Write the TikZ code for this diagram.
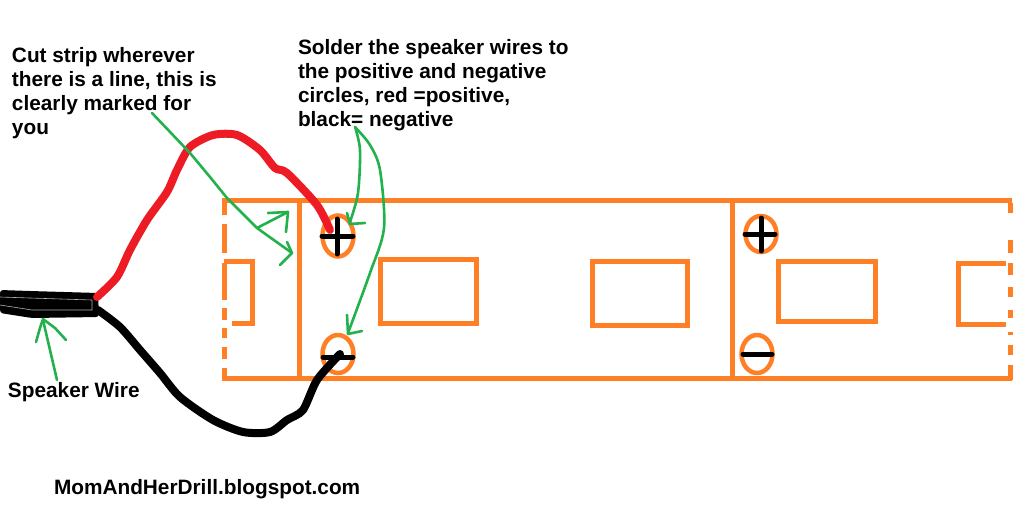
\documentclass[tikz,border=0pt]{standalone}
\usepackage{fontspec}
\setmainfont{Liberation Sans}
\usepackage{xcolor}
\definecolor{StripOrange}{HTML}{FF7F27}
\definecolor{WireRed}{HTML}{ED1C24}
\definecolor{NoteGreen}{HTML}{22B14C}
\usetikzlibrary{shapes.geometric}

\begin{document}
\begin{tikzpicture}[x=1pt,y=-1pt,
    every node/.style={inner sep=0pt,outer sep=0pt},
    note/.style={align=left,anchor=north west,font=\bfseries\fontsize{20.8}{24}\selectfont},
    strip/.style={draw=StripOrange,line width=5pt},
    hole/.style={ellipse,draw=StripOrange,line width=4.5pt,minimum width=31pt},
    sign/.style={draw=black,line width=5pt,line cap=round},
    wire/.style={line width=8pt,line cap=round,line join=round},
    pointer/.style={draw=NoteGreen,line width=2.6pt,line join=round,line cap=round}]
    \useasboundingbox (0,0) rectangle (1016,505);
    % strip
    \draw[strip] (222,200) -- (1012,200);
    \draw[strip] (222,378) -- (1012,378);
    \draw[strip] (299,200) -- (299,378);
    \draw[strip] (732,200) -- (732,378);
    \foreach \ya/\yb in {198/215,224/253,263/300,308/320,328/338,347/359,368/380}
      \draw[strip] (224,\ya) -- (224,\yb);
    \foreach \ya/\yb in {203/213,240/253,263/275,287/297,310/318,332/335,345/355,365/380}
      \draw[strip] (1010,\ya) -- (1010,\yb);
    \node[strip,minimum width=96pt,minimum height=64pt] (ledA) at (428,291.5) {};
    \node[strip,minimum width=95pt,minimum height=64pt] (ledB) at (639.5,293) {};
    \node[strip,minimum width=97pt,minimum height=60pt] (ledC) at (826.5,291.5) {};
    \draw[strip] (224,261) -- (252,261) -- (252,323) -- (232,323);
    \draw[strip] (1006,263) -- (958,263) -- (958,324) -- (1006,324);
    \node[hole,minimum height=41pt] (plusA) at (338,236) {};
    \node[hole,minimum height=38pt] (minusA) at (338,354) {};
    \node[hole,minimum height=36pt] (plusB) at (761,234) {};
    \node[hole,minimum height=38pt] (minusB) at (757,354) {};
    % wires
    \coordinate (redEnd) at (330,230);
    \coordinate (blackEnd) at (340,354);
    \fill[black,rounded corners=3pt] (0,290) -- (30,291) -- (98,293) -- (99,317) -- (32,318) -- (0,313) -- cycle;
    \draw[gray!60,line width=.6pt] (0,297) -- (30,298) -- (92,300) -- (92,310) -- (32,310) -- (0,305);
    \draw[wire,WireRed] plot[smooth,tension=.45] coordinates {(97,297) (117,277) (130,250) (147,220) (167,192) (177,170) (190,147) (213,135) (237,135) (260,150) (275,168) (287,173) (317,205) (redEnd)};
    \draw[wire,black] plot[smooth,tension=.45] coordinates {(98,310) (120,327) (140,350) (160,373) (180,397) (213,420) (243,432) (270,432) (287,420) (303,410) (317,380) (blackEnd)};
    % signs
    \draw[sign] (322,236) -- (353,236);
    \draw[sign] (337,219) -- (337,254);
    \draw[sign] (323,357) -- (353,357);
    \draw[sign] (745,234) -- (775,234);
    \draw[sign] (761,218) -- (761,251);
    \draw[sign] (743,354) -- (772,354);
    % labels
    \node[note] (cutNote) at (12,47) {Cut strip wherever\\there is a line, this is\\clearly marked for\\you};
    \node[note] (solderNote) at (298,39) {Solder the speaker wires to\\the positive and negative\\circles, red =positive,\\black= negative};
    \node[note] (wireNote) at (8,382) {Speaker Wire};
    \node[note] (blogNote) at (54,479) {MomAndHerDrill.blogspot.com};
    % pointers
    \draw[pointer] (152,113) -- (190,153) -- (210,177) -- (227,198) -- (257,228) -- (292,253);
    \draw[pointer] (287,242) -- (292,253) -- (280,265);
    \draw[pointer] (257,228) -- (288,212);
    \draw[pointer] (268,213) -- (288,212) -- (286,232);
    \draw[pointer] plot[smooth,tension=.5] coordinates {(355,127) (360,150) (358,193) (350,222)};
    \draw[pointer] (347,213) -- (350,224) -- (365,223);
    \draw[pointer] plot[smooth,tension=.5] coordinates {(355,127) (370,145) (380,170) (384,228) (370,273) (348,333)};
    \draw[pointer] (347,315) -- (348,334) -- (362,331);
    \draw[pointer] (57,380) -- (43,320);
    \draw[pointer] (36,342) -- (40,328) -- (43,319) -- (55,328) -- (66,340);
  \end{tikzpicture}
\end{document}
